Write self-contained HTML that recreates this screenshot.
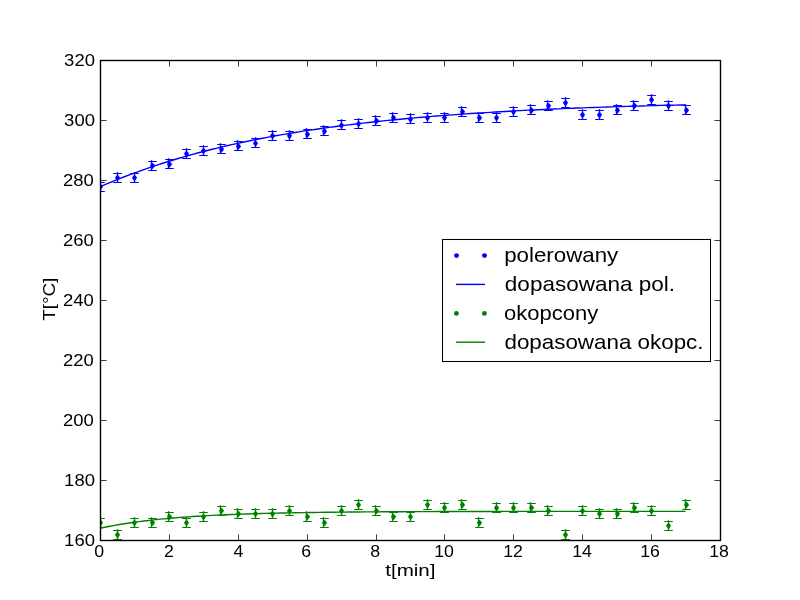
<!DOCTYPE html>
<html><head><meta charset="utf-8"><title>T vs t</title>
<style>html,body{margin:0;padding:0;background:#fff;overflow:hidden}svg{display:block;will-change:transform}.t,.t text{font-family:"Liberation Sans",sans-serif}</style>
</head><body>
<svg width="800" height="600" viewBox="0 0 800 600">
<rect width="800" height="600" fill="#fff"/>
<defs><clipPath id="ax"><rect x="100" y="60" width="620" height="480"/></clipPath></defs>
<g fill="none" clip-path="url(#ax)">
<polyline points="100.00,186.84 104.88,184.72 109.76,182.65 114.64,180.64 119.52,178.67 124.40,176.75 129.28,174.88 134.16,173.06 139.04,171.28 143.92,169.54 148.80,167.85 153.68,166.20 158.56,164.59 163.44,163.01 168.31,161.48 173.19,159.98 178.07,158.53 182.95,157.10 187.83,155.71 192.71,154.36 197.59,153.04 202.47,151.75 207.35,150.49 212.23,149.26 217.11,148.07 221.99,146.90 226.87,145.76 231.75,144.65 236.63,143.57 241.51,142.51 246.39,141.48 251.27,140.47 256.15,139.49 261.03,138.54 265.91,137.60 270.79,136.69 275.67,135.80 280.55,134.94 285.43,134.09 290.31,133.27 295.19,132.46 300.06,131.68 304.94,130.91 309.82,130.17 314.70,129.44 319.58,128.73 324.46,128.03 329.34,127.36 334.22,126.70 339.10,126.06 343.98,125.43 348.86,124.82 353.74,124.22 358.62,123.64 363.50,123.07 368.38,122.51 373.26,121.97 378.14,121.45 383.02,120.93 387.90,120.43 392.78,119.94 397.66,119.46 402.54,119.00 407.42,118.54 412.30,118.10 417.18,117.67 422.06,117.24 426.94,116.83 431.81,116.43 436.69,116.04 441.57,115.66 446.45,115.28 451.33,114.92 456.21,114.57 461.09,114.22 465.97,113.88 470.85,113.55 475.73,113.23 480.61,112.92 485.49,112.61 490.37,112.32 495.25,112.02 500.13,111.74 505.01,111.46 509.89,111.19 514.77,110.93 519.65,110.67 524.53,110.42 529.41,110.18 534.29,109.94 539.17,109.71 544.05,109.48 548.93,109.26 553.81,109.05 558.69,108.83 563.56,108.63 568.44,108.43 573.32,108.23 578.20,108.04 583.08,107.86 587.96,107.68 592.84,107.50 597.72,107.33 602.60,107.16 607.48,106.99 612.36,106.83 617.24,106.68 622.12,106.52 627.00,106.38 631.88,106.23 636.76,106.09 641.64,105.95 646.52,105.82 651.40,105.68 656.28,105.56 661.16,105.43 666.04,105.31 670.92,105.19 675.80,105.07 680.68,104.96 685.56,104.85" fill="none" stroke="#0000ff" stroke-width="1.39" stroke-linejoin="round"/>
<polyline points="100.00,528.22 104.88,527.21 109.76,526.26 114.64,525.36 119.52,524.52 124.40,523.73 129.28,522.99 134.16,522.29 139.04,521.63 143.92,521.02 148.80,520.44 153.68,519.89 158.56,519.38 163.44,518.89 168.31,518.44 173.19,518.02 178.07,517.61 182.95,517.24 187.83,516.88 192.71,516.55 197.59,516.24 202.47,515.94 207.35,515.67 212.23,515.41 217.11,515.16 221.99,514.93 226.87,514.72 231.75,514.51 236.63,514.32 241.51,514.14 246.39,513.97 251.27,513.81 256.15,513.66 261.03,513.52 265.91,513.39 270.79,513.27 275.67,513.15 280.55,513.04 285.43,512.94 290.31,512.84 295.19,512.75 300.06,512.67 304.94,512.58 309.82,512.51 314.70,512.44 319.58,512.37 324.46,512.31 329.34,512.25 334.22,512.19 339.10,512.14 343.98,512.09 348.86,512.05 353.74,512.00 358.62,511.96 363.50,511.92 368.38,511.89 373.26,511.85 378.14,511.82 383.02,511.79 387.90,511.76 392.78,511.74 397.66,511.71 402.54,511.69 407.42,511.67 412.30,511.65 417.18,511.63 422.06,511.61 426.94,511.59 431.81,511.57 436.69,511.56 441.57,511.54 446.45,511.53 451.33,511.52 456.21,511.51 461.09,511.50 465.97,511.48 470.85,511.48 475.73,511.47 480.61,511.46 485.49,511.45 490.37,511.44 495.25,511.43 500.13,511.43 505.01,511.42 509.89,511.41 514.77,511.41 519.65,511.40 524.53,511.40 529.41,511.39 534.29,511.39 539.17,511.39 544.05,511.38 548.93,511.38 553.81,511.37 558.69,511.37 563.56,511.37 568.44,511.37 573.32,511.36 578.20,511.36 583.08,511.36 587.96,511.36 592.84,511.35 597.72,511.35 602.60,511.35 607.48,511.35 612.36,511.35 617.24,511.34 622.12,511.34 627.00,511.34 631.88,511.34 636.76,511.34 641.64,511.34 646.52,511.34 651.40,511.34 656.28,511.33 661.16,511.33 666.04,511.33 670.92,511.33 675.80,511.33 680.68,511.33 685.56,511.33" fill="none" stroke="#008000" stroke-width="1.39" stroke-linejoin="round"/>
</g>
<g clip-path="url(#ax)">
<path d="M100.50 181.20V191.50" stroke="#0000ff" stroke-width="1.39"/>
<path d="M96.20 182.50H104.80M96.20 191.50H104.80" stroke="#0000ff" stroke-width="1"/>
<path d="M100.50 183.80Q102.40 185.45 103.00 186.80Q102.40 188.33 100.50 190.20Q98.60 188.33 98.00 186.80Q98.60 185.45 100.50 183.80Z" fill="#0000ff"/>
<path d="M117.50 172.20V182.50" stroke="#0000ff" stroke-width="1.39"/>
<path d="M113.20 173.50H121.80M113.20 182.50H121.80" stroke="#0000ff" stroke-width="1"/>
<path d="M117.50 174.80Q119.40 176.45 120.00 177.80Q119.40 179.33 117.50 181.20Q115.60 179.33 115.00 177.80Q115.60 176.45 117.50 174.80Z" fill="#0000ff"/>
<path d="M134.50 172.20V182.50" stroke="#0000ff" stroke-width="1.39"/>
<path d="M130.20 173.50H138.80M130.20 182.50H138.80" stroke="#0000ff" stroke-width="1"/>
<path d="M134.50 174.80Q136.40 176.45 137.00 177.80Q136.40 179.33 134.50 181.20Q132.60 179.33 132.00 177.80Q132.60 176.45 134.50 174.80Z" fill="#0000ff"/>
<path d="M151.50 160.20V170.50" stroke="#0000ff" stroke-width="1.39"/>
<path d="M148.20 161.50H156.80M148.20 170.50H156.80" stroke="#0000ff" stroke-width="1"/>
<path d="M152.50 162.80Q154.40 164.45 155.00 165.80Q154.40 167.33 152.50 169.20Q150.60 167.33 150.00 165.80Q150.60 164.45 152.50 162.80Z" fill="#0000ff"/>
<path d="M168.50 158.20V168.50" stroke="#0000ff" stroke-width="1.39"/>
<path d="M165.20 159.50H173.80M165.20 168.50H173.80" stroke="#0000ff" stroke-width="1"/>
<path d="M169.50 161.30Q171.40 162.95 172.00 164.30Q171.40 165.83 169.50 167.70Q167.60 165.83 167.00 164.30Q167.60 162.95 169.50 161.30Z" fill="#0000ff"/>
<path d="M186.50 148.20V158.50" stroke="#0000ff" stroke-width="1.39"/>
<path d="M182.20 149.50H190.80M182.20 158.50H190.80" stroke="#0000ff" stroke-width="1"/>
<path d="M186.50 150.80Q188.40 152.45 189.00 153.80Q188.40 155.33 186.50 157.20Q184.60 155.33 184.00 153.80Q184.60 152.45 186.50 150.80Z" fill="#0000ff"/>
<path d="M203.50 145.20V155.50" stroke="#0000ff" stroke-width="1.39"/>
<path d="M199.20 146.50H207.80M199.20 155.50H207.80" stroke="#0000ff" stroke-width="1"/>
<path d="M203.50 147.80Q205.40 149.45 206.00 150.80Q205.40 152.33 203.50 154.20Q201.60 152.33 201.00 150.80Q201.60 149.45 203.50 147.80Z" fill="#0000ff"/>
<path d="M220.50 143.20V153.50" stroke="#0000ff" stroke-width="1.39"/>
<path d="M217.20 144.50H225.80M217.20 153.50H225.80" stroke="#0000ff" stroke-width="1"/>
<path d="M221.50 146.30Q223.40 147.95 224.00 149.30Q223.40 150.83 221.50 152.70Q219.60 150.83 219.00 149.30Q219.60 147.95 221.50 146.30Z" fill="#0000ff"/>
<path d="M237.50 140.20V150.50" stroke="#0000ff" stroke-width="1.39"/>
<path d="M234.20 141.50H242.80M234.20 150.50H242.80" stroke="#0000ff" stroke-width="1"/>
<path d="M238.50 143.30Q240.40 144.95 241.00 146.30Q240.40 147.83 238.50 149.70Q236.60 147.83 236.00 146.30Q236.60 144.95 238.50 143.30Z" fill="#0000ff"/>
<path d="M255.50 137.20V147.50" stroke="#0000ff" stroke-width="1.39"/>
<path d="M251.20 138.50H259.80M251.20 147.50H259.80" stroke="#0000ff" stroke-width="1"/>
<path d="M255.50 140.30Q257.40 141.95 258.00 143.30Q257.40 144.83 255.50 146.70Q253.60 144.83 253.00 143.30Q253.60 141.95 255.50 140.30Z" fill="#0000ff"/>
<path d="M272.50 130.20V140.50" stroke="#0000ff" stroke-width="1.39"/>
<path d="M268.20 131.50H276.80M268.20 140.50H276.80" stroke="#0000ff" stroke-width="1"/>
<path d="M272.50 132.80Q274.40 134.45 275.00 135.80Q274.40 137.33 272.50 139.20Q270.60 137.33 270.00 135.80Q270.60 134.45 272.50 132.80Z" fill="#0000ff"/>
<path d="M289.50 130.20V140.50" stroke="#0000ff" stroke-width="1.39"/>
<path d="M285.20 131.50H293.80M285.20 140.50H293.80" stroke="#0000ff" stroke-width="1"/>
<path d="M289.50 132.80Q291.40 134.45 292.00 135.80Q291.40 137.33 289.50 139.20Q287.60 137.33 287.00 135.80Q287.60 134.45 289.50 132.80Z" fill="#0000ff"/>
<path d="M306.50 128.20V138.50" stroke="#0000ff" stroke-width="1.39"/>
<path d="M303.20 129.50H311.80M303.20 138.50H311.80" stroke="#0000ff" stroke-width="1"/>
<path d="M307.50 131.30Q309.40 132.95 310.00 134.30Q309.40 135.83 307.50 137.70Q305.60 135.83 305.00 134.30Q305.60 132.95 307.50 131.30Z" fill="#0000ff"/>
<path d="M323.50 125.20V135.50" stroke="#0000ff" stroke-width="1.39"/>
<path d="M320.20 126.50H328.80M320.20 135.50H328.80" stroke="#0000ff" stroke-width="1"/>
<path d="M324.50 128.30Q326.40 129.95 327.00 131.30Q326.40 132.83 324.50 134.70Q322.60 132.83 322.00 131.30Q322.60 129.95 324.50 128.30Z" fill="#0000ff"/>
<path d="M341.50 119.20V129.50" stroke="#0000ff" stroke-width="1.39"/>
<path d="M337.20 120.50H345.80M337.20 129.50H345.80" stroke="#0000ff" stroke-width="1"/>
<path d="M341.50 122.30Q343.40 123.95 344.00 125.30Q343.40 126.83 341.50 128.70Q339.60 126.83 339.00 125.30Q339.60 123.95 341.50 122.30Z" fill="#0000ff"/>
<path d="M358.50 118.20V128.50" stroke="#0000ff" stroke-width="1.39"/>
<path d="M354.20 119.50H362.80M354.20 128.50H362.80" stroke="#0000ff" stroke-width="1"/>
<path d="M358.50 120.80Q360.40 122.45 361.00 123.80Q360.40 125.33 358.50 127.20Q356.60 125.33 356.00 123.80Q356.60 122.45 358.50 120.80Z" fill="#0000ff"/>
<path d="M375.50 115.20V125.50" stroke="#0000ff" stroke-width="1.39"/>
<path d="M372.20 116.50H380.80M372.20 125.50H380.80" stroke="#0000ff" stroke-width="1"/>
<path d="M376.50 117.80Q378.40 119.45 379.00 120.80Q378.40 122.33 376.50 124.20Q374.60 122.33 374.00 120.80Q374.60 119.45 376.50 117.80Z" fill="#0000ff"/>
<path d="M392.50 112.20V122.50" stroke="#0000ff" stroke-width="1.39"/>
<path d="M389.20 113.50H397.80M389.20 122.50H397.80" stroke="#0000ff" stroke-width="1"/>
<path d="M393.50 114.80Q395.40 116.45 396.00 117.80Q395.40 119.33 393.50 121.20Q391.60 119.33 391.00 117.80Q391.60 116.45 393.50 114.80Z" fill="#0000ff"/>
<path d="M410.50 113.20V123.50" stroke="#0000ff" stroke-width="1.39"/>
<path d="M406.20 114.50H414.80M406.20 123.50H414.80" stroke="#0000ff" stroke-width="1"/>
<path d="M410.50 116.30Q412.40 117.95 413.00 119.30Q412.40 120.83 410.50 122.70Q408.60 120.83 408.00 119.30Q408.60 117.95 410.50 116.30Z" fill="#0000ff"/>
<path d="M427.50 112.20V122.50" stroke="#0000ff" stroke-width="1.39"/>
<path d="M423.20 113.50H431.80M423.20 122.50H431.80" stroke="#0000ff" stroke-width="1"/>
<path d="M427.50 114.80Q429.40 116.45 430.00 117.80Q429.40 119.33 427.50 121.20Q425.60 119.33 425.00 117.80Q425.60 116.45 427.50 114.80Z" fill="#0000ff"/>
<path d="M444.50 112.20V122.50" stroke="#0000ff" stroke-width="1.39"/>
<path d="M440.20 113.50H448.80M440.20 122.50H448.80" stroke="#0000ff" stroke-width="1"/>
<path d="M444.50 114.80Q446.40 116.45 447.00 117.80Q446.40 119.33 444.50 121.20Q442.60 119.33 442.00 117.80Q442.60 116.45 444.50 114.80Z" fill="#0000ff"/>
<path d="M461.50 106.20V116.50" stroke="#0000ff" stroke-width="1.39"/>
<path d="M458.20 107.50H466.80M458.20 116.50H466.80" stroke="#0000ff" stroke-width="1"/>
<path d="M462.50 108.80Q464.40 110.45 465.00 111.80Q464.40 113.33 462.50 115.20Q460.60 113.33 460.00 111.80Q460.60 110.45 462.50 108.80Z" fill="#0000ff"/>
<path d="M478.50 112.20V122.50" stroke="#0000ff" stroke-width="1.39"/>
<path d="M475.20 113.50H483.80M475.20 122.50H483.80" stroke="#0000ff" stroke-width="1"/>
<path d="M479.50 114.80Q481.40 116.45 482.00 117.80Q481.40 119.33 479.50 121.20Q477.60 119.33 477.00 117.80Q477.60 116.45 479.50 114.80Z" fill="#0000ff"/>
<path d="M496.50 112.20V122.50" stroke="#0000ff" stroke-width="1.39"/>
<path d="M492.20 113.50H500.80M492.20 122.50H500.80" stroke="#0000ff" stroke-width="1"/>
<path d="M496.50 114.80Q498.40 116.45 499.00 117.80Q498.40 119.33 496.50 121.20Q494.60 119.33 494.00 117.80Q494.60 116.45 496.50 114.80Z" fill="#0000ff"/>
<path d="M513.50 106.20V116.50" stroke="#0000ff" stroke-width="1.39"/>
<path d="M509.20 107.50H517.80M509.20 116.50H517.80" stroke="#0000ff" stroke-width="1"/>
<path d="M513.50 108.80Q515.40 110.45 516.00 111.80Q515.40 113.33 513.50 115.20Q511.60 113.33 511.00 111.80Q511.60 110.45 513.50 108.80Z" fill="#0000ff"/>
<path d="M530.50 104.20V114.50" stroke="#0000ff" stroke-width="1.39"/>
<path d="M527.20 105.50H535.80M527.20 114.50H535.80" stroke="#0000ff" stroke-width="1"/>
<path d="M531.50 107.30Q533.40 108.95 534.00 110.30Q533.40 111.83 531.50 113.70Q529.60 111.83 529.00 110.30Q529.60 108.95 531.50 107.30Z" fill="#0000ff"/>
<path d="M547.50 100.20V110.50" stroke="#0000ff" stroke-width="1.39"/>
<path d="M544.20 101.50H552.80M544.20 110.50H552.80" stroke="#0000ff" stroke-width="1"/>
<path d="M548.50 102.80Q550.40 104.45 551.00 105.80Q550.40 107.33 548.50 109.20Q546.60 107.33 546.00 105.80Q546.60 104.45 548.50 102.80Z" fill="#0000ff"/>
<path d="M565.50 97.20V107.50" stroke="#0000ff" stroke-width="1.39"/>
<path d="M561.20 98.50H569.80M561.20 107.50H569.80" stroke="#0000ff" stroke-width="1"/>
<path d="M565.50 99.80Q567.40 101.45 568.00 102.80Q567.40 104.33 565.50 106.20Q563.60 104.33 563.00 102.80Q563.60 101.45 565.50 99.80Z" fill="#0000ff"/>
<path d="M582.50 109.20V119.50" stroke="#0000ff" stroke-width="1.39"/>
<path d="M578.20 110.50H586.80M578.20 119.50H586.80" stroke="#0000ff" stroke-width="1"/>
<path d="M582.50 111.80Q584.40 113.45 585.00 114.80Q584.40 116.33 582.50 118.20Q580.60 116.33 580.00 114.80Q580.60 113.45 582.50 111.80Z" fill="#0000ff"/>
<path d="M599.50 109.20V119.50" stroke="#0000ff" stroke-width="1.39"/>
<path d="M595.20 110.50H603.80M595.20 119.50H603.80" stroke="#0000ff" stroke-width="1"/>
<path d="M599.50 111.80Q601.40 113.45 602.00 114.80Q601.40 116.33 599.50 118.20Q597.60 116.33 597.00 114.80Q597.60 113.45 599.50 111.80Z" fill="#0000ff"/>
<path d="M616.50 104.20V114.50" stroke="#0000ff" stroke-width="1.39"/>
<path d="M613.20 105.50H621.80M613.20 114.50H621.80" stroke="#0000ff" stroke-width="1"/>
<path d="M617.50 107.30Q619.40 108.95 620.00 110.30Q619.40 111.83 617.50 113.70Q615.60 111.83 615.00 110.30Q615.60 108.95 617.50 107.30Z" fill="#0000ff"/>
<path d="M633.50 100.20V110.50" stroke="#0000ff" stroke-width="1.39"/>
<path d="M630.20 101.50H638.80M630.20 110.50H638.80" stroke="#0000ff" stroke-width="1"/>
<path d="M634.50 102.80Q636.40 104.45 637.00 105.80Q636.40 107.33 634.50 109.20Q632.60 107.33 632.00 105.80Q632.60 104.45 634.50 102.80Z" fill="#0000ff"/>
<path d="M651.50 94.20V104.50" stroke="#0000ff" stroke-width="1.39"/>
<path d="M647.20 95.50H655.80M647.20 104.50H655.80" stroke="#0000ff" stroke-width="1"/>
<path d="M651.50 96.80Q653.40 98.45 654.00 99.80Q653.40 101.33 651.50 103.20Q649.60 101.33 649.00 99.80Q649.60 98.45 651.50 96.80Z" fill="#0000ff"/>
<path d="M668.50 100.20V110.50" stroke="#0000ff" stroke-width="1.39"/>
<path d="M664.20 101.50H672.80M664.20 110.50H672.80" stroke="#0000ff" stroke-width="1"/>
<path d="M668.50 102.80Q670.40 104.45 671.00 105.80Q670.40 107.33 668.50 109.20Q666.60 107.33 666.00 105.80Q666.60 104.45 668.50 102.80Z" fill="#0000ff"/>
<path d="M685.50 104.20V114.50" stroke="#0000ff" stroke-width="1.39"/>
<path d="M682.20 105.50H690.80M682.20 114.50H690.80" stroke="#0000ff" stroke-width="1"/>
<path d="M686.50 107.30Q688.40 108.95 689.00 110.30Q688.40 111.83 686.50 113.70Q684.60 111.83 684.00 110.30Q684.60 108.95 686.50 107.30Z" fill="#0000ff"/>
<path d="M100.50 517.20V527.50" stroke="#008000" stroke-width="1.39"/>
<path d="M96.20 518.50H104.80M96.20 527.50H104.80" stroke="#008000" stroke-width="1"/>
<path d="M100.50 519.80Q102.40 521.45 103.00 522.80Q102.40 524.33 100.50 526.20Q98.60 524.33 98.00 522.80Q98.60 521.45 100.50 519.80Z" fill="#008000"/>
<path d="M117.50 529.20V539.50" stroke="#008000" stroke-width="1.39"/>
<path d="M113.20 530.50H121.80M113.20 539.50H121.80" stroke="#008000" stroke-width="1"/>
<path d="M117.50 531.80Q119.40 533.45 120.00 534.80Q119.40 536.33 117.50 538.20Q115.60 536.33 115.00 534.80Q115.60 533.45 117.50 531.80Z" fill="#008000"/>
<path d="M134.50 517.20V527.50" stroke="#008000" stroke-width="1.39"/>
<path d="M130.20 518.50H138.80M130.20 527.50H138.80" stroke="#008000" stroke-width="1"/>
<path d="M134.50 519.80Q136.40 521.45 137.00 522.80Q136.40 524.33 134.50 526.20Q132.60 524.33 132.00 522.80Q132.60 521.45 134.50 519.80Z" fill="#008000"/>
<path d="M151.50 517.20V527.50" stroke="#008000" stroke-width="1.39"/>
<path d="M148.20 518.50H156.80M148.20 527.50H156.80" stroke="#008000" stroke-width="1"/>
<path d="M152.50 519.80Q154.40 521.45 155.00 522.80Q154.40 524.33 152.50 526.20Q150.60 524.33 150.00 522.80Q150.60 521.45 152.50 519.80Z" fill="#008000"/>
<path d="M168.50 511.20V521.50" stroke="#008000" stroke-width="1.39"/>
<path d="M165.20 512.50H173.80M165.20 521.50H173.80" stroke="#008000" stroke-width="1"/>
<path d="M169.50 513.80Q171.40 515.45 172.00 516.80Q171.40 518.33 169.50 520.20Q167.60 518.33 167.00 516.80Q167.60 515.45 169.50 513.80Z" fill="#008000"/>
<path d="M186.50 517.20V527.50" stroke="#008000" stroke-width="1.39"/>
<path d="M182.20 518.50H190.80M182.20 527.50H190.80" stroke="#008000" stroke-width="1"/>
<path d="M186.50 519.80Q188.40 521.45 189.00 522.80Q188.40 524.33 186.50 526.20Q184.60 524.33 184.00 522.80Q184.60 521.45 186.50 519.80Z" fill="#008000"/>
<path d="M203.50 511.20V521.50" stroke="#008000" stroke-width="1.39"/>
<path d="M199.20 512.50H207.80M199.20 521.50H207.80" stroke="#008000" stroke-width="1"/>
<path d="M203.50 513.80Q205.40 515.45 206.00 516.80Q205.40 518.33 203.50 520.20Q201.60 518.33 201.00 516.80Q201.60 515.45 203.50 513.80Z" fill="#008000"/>
<path d="M220.50 505.20V515.50" stroke="#008000" stroke-width="1.39"/>
<path d="M217.20 506.50H225.80M217.20 515.50H225.80" stroke="#008000" stroke-width="1"/>
<path d="M221.50 507.80Q223.40 509.45 224.00 510.80Q223.40 512.33 221.50 514.20Q219.60 512.33 219.00 510.80Q219.60 509.45 221.50 507.80Z" fill="#008000"/>
<path d="M237.50 508.20V518.50" stroke="#008000" stroke-width="1.39"/>
<path d="M234.20 509.50H242.80M234.20 518.50H242.80" stroke="#008000" stroke-width="1"/>
<path d="M238.50 510.80Q240.40 512.45 241.00 513.80Q240.40 515.33 238.50 517.20Q236.60 515.33 236.00 513.80Q236.60 512.45 238.50 510.80Z" fill="#008000"/>
<path d="M255.50 508.20V518.50" stroke="#008000" stroke-width="1.39"/>
<path d="M251.20 509.50H259.80M251.20 518.50H259.80" stroke="#008000" stroke-width="1"/>
<path d="M255.50 510.80Q257.40 512.45 258.00 513.80Q257.40 515.33 255.50 517.20Q253.60 515.33 253.00 513.80Q253.60 512.45 255.50 510.80Z" fill="#008000"/>
<path d="M272.50 508.20V518.50" stroke="#008000" stroke-width="1.39"/>
<path d="M268.20 509.50H276.80M268.20 518.50H276.80" stroke="#008000" stroke-width="1"/>
<path d="M272.50 510.80Q274.40 512.45 275.00 513.80Q274.40 515.33 272.50 517.20Q270.60 515.33 270.00 513.80Q270.60 512.45 272.50 510.80Z" fill="#008000"/>
<path d="M289.50 505.20V515.50" stroke="#008000" stroke-width="1.39"/>
<path d="M285.20 506.50H293.80M285.20 515.50H293.80" stroke="#008000" stroke-width="1"/>
<path d="M289.50 507.80Q291.40 509.45 292.00 510.80Q291.40 512.33 289.50 514.20Q287.60 512.33 287.00 510.80Q287.60 509.45 289.50 507.80Z" fill="#008000"/>
<path d="M306.50 511.20V521.50" stroke="#008000" stroke-width="1.39"/>
<path d="M303.20 512.50H311.80M303.20 521.50H311.80" stroke="#008000" stroke-width="1"/>
<path d="M307.50 513.80Q309.40 515.45 310.00 516.80Q309.40 518.33 307.50 520.20Q305.60 518.33 305.00 516.80Q305.60 515.45 307.50 513.80Z" fill="#008000"/>
<path d="M323.50 517.20V527.50" stroke="#008000" stroke-width="1.39"/>
<path d="M320.20 518.50H328.80M320.20 527.50H328.80" stroke="#008000" stroke-width="1"/>
<path d="M324.50 519.80Q326.40 521.45 327.00 522.80Q326.40 524.33 324.50 526.20Q322.60 524.33 322.00 522.80Q322.60 521.45 324.50 519.80Z" fill="#008000"/>
<path d="M341.50 505.20V515.50" stroke="#008000" stroke-width="1.39"/>
<path d="M337.20 506.50H345.80M337.20 515.50H345.80" stroke="#008000" stroke-width="1"/>
<path d="M341.50 507.80Q343.40 509.45 344.00 510.80Q343.40 512.33 341.50 514.20Q339.60 512.33 339.00 510.80Q339.60 509.45 341.50 507.80Z" fill="#008000"/>
<path d="M358.50 499.20V509.50" stroke="#008000" stroke-width="1.39"/>
<path d="M354.20 500.50H362.80M354.20 509.50H362.80" stroke="#008000" stroke-width="1"/>
<path d="M358.50 501.80Q360.40 503.45 361.00 504.80Q360.40 506.33 358.50 508.20Q356.60 506.33 356.00 504.80Q356.60 503.45 358.50 501.80Z" fill="#008000"/>
<path d="M375.50 505.20V515.50" stroke="#008000" stroke-width="1.39"/>
<path d="M372.20 506.50H380.80M372.20 515.50H380.80" stroke="#008000" stroke-width="1"/>
<path d="M376.50 507.80Q378.40 509.45 379.00 510.80Q378.40 512.33 376.50 514.20Q374.60 512.33 374.00 510.80Q374.60 509.45 376.50 507.80Z" fill="#008000"/>
<path d="M392.50 511.20V521.50" stroke="#008000" stroke-width="1.39"/>
<path d="M389.20 512.50H397.80M389.20 521.50H397.80" stroke="#008000" stroke-width="1"/>
<path d="M393.50 513.80Q395.40 515.45 396.00 516.80Q395.40 518.33 393.50 520.20Q391.60 518.33 391.00 516.80Q391.60 515.45 393.50 513.80Z" fill="#008000"/>
<path d="M410.50 511.20V521.50" stroke="#008000" stroke-width="1.39"/>
<path d="M406.20 512.50H414.80M406.20 521.50H414.80" stroke="#008000" stroke-width="1"/>
<path d="M410.50 513.80Q412.40 515.45 413.00 516.80Q412.40 518.33 410.50 520.20Q408.60 518.33 408.00 516.80Q408.60 515.45 410.50 513.80Z" fill="#008000"/>
<path d="M427.50 499.20V509.50" stroke="#008000" stroke-width="1.39"/>
<path d="M423.20 500.50H431.80M423.20 509.50H431.80" stroke="#008000" stroke-width="1"/>
<path d="M427.50 501.80Q429.40 503.45 430.00 504.80Q429.40 506.33 427.50 508.20Q425.60 506.33 425.00 504.80Q425.60 503.45 427.50 501.80Z" fill="#008000"/>
<path d="M444.50 502.20V512.50" stroke="#008000" stroke-width="1.39"/>
<path d="M440.20 503.50H448.80M440.20 512.50H448.80" stroke="#008000" stroke-width="1"/>
<path d="M444.50 504.80Q446.40 506.45 447.00 507.80Q446.40 509.33 444.50 511.20Q442.60 509.33 442.00 507.80Q442.60 506.45 444.50 504.80Z" fill="#008000"/>
<path d="M461.50 499.20V509.50" stroke="#008000" stroke-width="1.39"/>
<path d="M458.20 500.50H466.80M458.20 509.50H466.80" stroke="#008000" stroke-width="1"/>
<path d="M462.50 501.80Q464.40 503.45 465.00 504.80Q464.40 506.33 462.50 508.20Q460.60 506.33 460.00 504.80Q460.60 503.45 462.50 501.80Z" fill="#008000"/>
<path d="M478.50 517.20V527.50" stroke="#008000" stroke-width="1.39"/>
<path d="M475.20 518.50H483.80M475.20 527.50H483.80" stroke="#008000" stroke-width="1"/>
<path d="M479.50 519.80Q481.40 521.45 482.00 522.80Q481.40 524.33 479.50 526.20Q477.60 524.33 477.00 522.80Q477.60 521.45 479.50 519.80Z" fill="#008000"/>
<path d="M496.50 502.20V512.50" stroke="#008000" stroke-width="1.39"/>
<path d="M492.20 503.50H500.80M492.20 512.50H500.80" stroke="#008000" stroke-width="1"/>
<path d="M496.50 504.80Q498.40 506.45 499.00 507.80Q498.40 509.33 496.50 511.20Q494.60 509.33 494.00 507.80Q494.60 506.45 496.50 504.80Z" fill="#008000"/>
<path d="M513.50 502.20V512.50" stroke="#008000" stroke-width="1.39"/>
<path d="M509.20 503.50H517.80M509.20 512.50H517.80" stroke="#008000" stroke-width="1"/>
<path d="M513.50 504.80Q515.40 506.45 516.00 507.80Q515.40 509.33 513.50 511.20Q511.60 509.33 511.00 507.80Q511.60 506.45 513.50 504.80Z" fill="#008000"/>
<path d="M530.50 502.20V512.50" stroke="#008000" stroke-width="1.39"/>
<path d="M527.20 503.50H535.80M527.20 512.50H535.80" stroke="#008000" stroke-width="1"/>
<path d="M531.50 504.80Q533.40 506.45 534.00 507.80Q533.40 509.33 531.50 511.20Q529.60 509.33 529.00 507.80Q529.60 506.45 531.50 504.80Z" fill="#008000"/>
<path d="M547.50 505.20V515.50" stroke="#008000" stroke-width="1.39"/>
<path d="M544.20 506.50H552.80M544.20 515.50H552.80" stroke="#008000" stroke-width="1"/>
<path d="M548.50 507.80Q550.40 509.45 551.00 510.80Q550.40 512.33 548.50 514.20Q546.60 512.33 546.00 510.80Q546.60 509.45 548.50 507.80Z" fill="#008000"/>
<path d="M565.50 529.20V539.50" stroke="#008000" stroke-width="1.39"/>
<path d="M561.20 530.50H569.80M561.20 539.50H569.80" stroke="#008000" stroke-width="1"/>
<path d="M565.50 531.80Q567.40 533.45 568.00 534.80Q567.40 536.33 565.50 538.20Q563.60 536.33 563.00 534.80Q563.60 533.45 565.50 531.80Z" fill="#008000"/>
<path d="M582.50 505.20V515.50" stroke="#008000" stroke-width="1.39"/>
<path d="M578.20 506.50H586.80M578.20 515.50H586.80" stroke="#008000" stroke-width="1"/>
<path d="M582.50 507.80Q584.40 509.45 585.00 510.80Q584.40 512.33 582.50 514.20Q580.60 512.33 580.00 510.80Q580.60 509.45 582.50 507.80Z" fill="#008000"/>
<path d="M599.50 508.20V518.50" stroke="#008000" stroke-width="1.39"/>
<path d="M595.20 509.50H603.80M595.20 518.50H603.80" stroke="#008000" stroke-width="1"/>
<path d="M599.50 510.80Q601.40 512.45 602.00 513.80Q601.40 515.33 599.50 517.20Q597.60 515.33 597.00 513.80Q597.60 512.45 599.50 510.80Z" fill="#008000"/>
<path d="M616.50 508.20V518.50" stroke="#008000" stroke-width="1.39"/>
<path d="M613.20 509.50H621.80M613.20 518.50H621.80" stroke="#008000" stroke-width="1"/>
<path d="M617.50 510.80Q619.40 512.45 620.00 513.80Q619.40 515.33 617.50 517.20Q615.60 515.33 615.00 513.80Q615.60 512.45 617.50 510.80Z" fill="#008000"/>
<path d="M633.50 502.20V512.50" stroke="#008000" stroke-width="1.39"/>
<path d="M630.20 503.50H638.80M630.20 512.50H638.80" stroke="#008000" stroke-width="1"/>
<path d="M634.50 504.80Q636.40 506.45 637.00 507.80Q636.40 509.33 634.50 511.20Q632.60 509.33 632.00 507.80Q632.60 506.45 634.50 504.80Z" fill="#008000"/>
<path d="M651.50 505.20V515.50" stroke="#008000" stroke-width="1.39"/>
<path d="M647.20 506.50H655.80M647.20 515.50H655.80" stroke="#008000" stroke-width="1"/>
<path d="M651.50 507.80Q653.40 509.45 654.00 510.80Q653.40 512.33 651.50 514.20Q649.60 512.33 649.00 510.80Q649.60 509.45 651.50 507.80Z" fill="#008000"/>
<path d="M668.50 520.20V530.50" stroke="#008000" stroke-width="1.39"/>
<path d="M664.20 521.50H672.80M664.20 530.50H672.80" stroke="#008000" stroke-width="1"/>
<path d="M668.50 522.80Q670.40 524.45 671.00 525.80Q670.40 527.33 668.50 529.20Q666.60 527.33 666.00 525.80Q666.60 524.45 668.50 522.80Z" fill="#008000"/>
<path d="M685.50 499.20V509.50" stroke="#008000" stroke-width="1.39"/>
<path d="M682.20 500.50H690.80M682.20 509.50H690.80" stroke="#008000" stroke-width="1"/>
<path d="M686.50 501.80Q688.40 503.45 689.00 504.80Q688.40 506.33 686.50 508.20Q684.60 506.33 684.00 504.80Q684.60 503.45 686.50 501.80Z" fill="#008000"/>
</g>
<g class="t" font-size="17.2" fill="#000">
<text x="94.28" y="556.75" textLength="9.85" lengthAdjust="spacingAndGlyphs">0</text>
<path d="M169.5 540.5V534.4M169.5 60.5V66.6" stroke="#000" stroke-width="0.75"/>
<text x="164.08" y="556.75" textLength="9.85" lengthAdjust="spacingAndGlyphs">2</text>
<path d="M238.5 540.5V534.4M238.5 60.5V66.6" stroke="#000" stroke-width="0.75"/>
<text x="233.53" y="556.75" textLength="9.85" lengthAdjust="spacingAndGlyphs">4</text>
<path d="M307.5 540.5V534.4M307.5 60.5V66.6" stroke="#000" stroke-width="0.75"/>
<text x="301.32" y="556.75" textLength="9.85" lengthAdjust="spacingAndGlyphs">6</text>
<path d="M376.5 540.5V534.4M376.5 60.5V66.6" stroke="#000" stroke-width="0.75"/>
<text x="370.33" y="556.75" textLength="9.85" lengthAdjust="spacingAndGlyphs">8</text>
<path d="M444.5 540.5V534.4M444.5 60.5V66.6" stroke="#000" stroke-width="0.75"/>
<text x="434.26" y="556.75" textLength="19.69" lengthAdjust="spacingAndGlyphs">10</text>
<path d="M513.5 540.5V534.4M513.5 60.5V66.6" stroke="#000" stroke-width="0.75"/>
<text x="503.23" y="556.75" textLength="19.69" lengthAdjust="spacingAndGlyphs">12</text>
<path d="M582.5 540.5V534.4M582.5 60.5V66.6" stroke="#000" stroke-width="0.75"/>
<text x="572.24" y="556.75" textLength="19.69" lengthAdjust="spacingAndGlyphs">14</text>
<path d="M651.5 540.5V534.4M651.5 60.5V66.6" stroke="#000" stroke-width="0.75"/>
<text x="640.22" y="556.75" textLength="19.69" lengthAdjust="spacingAndGlyphs">16</text>
<text x="709.21" y="556.75" textLength="19.69" lengthAdjust="spacingAndGlyphs">18</text>
<text x="64.13" y="545.93" textLength="30.85" lengthAdjust="spacingAndGlyphs">160</text>
<path d="M100.5 480.5H106.6M720.5 480.5H714.4" stroke="#000" stroke-width="0.75"/>
<text x="64.13" y="485.93" textLength="30.85" lengthAdjust="spacingAndGlyphs">180</text>
<path d="M100.5 420.5H106.6M720.5 420.5H714.4" stroke="#000" stroke-width="0.75"/>
<text x="62.98" y="425.93" textLength="30.85" lengthAdjust="spacingAndGlyphs">200</text>
<path d="M100.5 360.5H106.6M720.5 360.5H714.4" stroke="#000" stroke-width="0.75"/>
<text x="62.98" y="365.93" textLength="30.85" lengthAdjust="spacingAndGlyphs">220</text>
<path d="M100.5 300.5H106.6M720.5 300.5H714.4" stroke="#000" stroke-width="0.75"/>
<text x="62.98" y="305.93" textLength="30.85" lengthAdjust="spacingAndGlyphs">240</text>
<path d="M100.5 240.5H106.6M720.5 240.5H714.4" stroke="#000" stroke-width="0.75"/>
<text x="62.98" y="245.93" textLength="30.85" lengthAdjust="spacingAndGlyphs">260</text>
<path d="M100.5 180.5H106.6M720.5 180.5H714.4" stroke="#000" stroke-width="0.75"/>
<text x="62.98" y="185.93" textLength="30.85" lengthAdjust="spacingAndGlyphs">280</text>
<path d="M100.5 120.5H106.6M720.5 120.5H714.4" stroke="#000" stroke-width="0.75"/>
<text x="64.13" y="125.93" textLength="30.85" lengthAdjust="spacingAndGlyphs">300</text>
<text x="64.13" y="65.93" textLength="30.85" lengthAdjust="spacingAndGlyphs">320</text>
</g>
<rect x="100.5" y="60.5" width="620" height="480" fill="none" stroke="#000" stroke-width="1.39"/>
<g class="t" fill="#000">
<text x="-320.81" y="55.00" font-size="17.00" textLength="43.15" lengthAdjust="spacingAndGlyphs" transform="rotate(-90)">T[°C]</text>
<text x="385.19" y="575.70" font-size="17.00" textLength="50.37" lengthAdjust="spacingAndGlyphs">t[min]</text>
</g>
<g>
<rect x="442.5" y="239.5" width="268" height="122" fill="#fff" stroke="#000" stroke-width="1.05"/>
<circle cx="456.5" cy="255.6" r="2.43" fill="#0000ff"/><circle cx="484.5" cy="255.6" r="2.43" fill="#0000ff"/>
<path d="M456.0 284.4H485.0" stroke="#0000ff" stroke-width="1.39"/>
<circle cx="456.4" cy="313.4" r="2.43" fill="#008000"/><circle cx="484.4" cy="313.4" r="2.43" fill="#008000"/>
<path d="M456.0 342.2H485.0" stroke="#008000" stroke-width="1.39"/>
<g class="t" fill="#000">
<text x="504.17" y="261.90" font-size="20.40" textLength="114.13" lengthAdjust="spacingAndGlyphs">polerowany</text>
<text x="504.85" y="291.00" font-size="20.40" textLength="170.18" lengthAdjust="spacingAndGlyphs">dopasowana pol.</text>
<text x="504.08" y="319.70" font-size="20.40" textLength="94.26" lengthAdjust="spacingAndGlyphs">okopcony</text>
<text x="504.46" y="348.75" font-size="20.40" textLength="199.07" lengthAdjust="spacingAndGlyphs">dopasowana okopc.</text>
</g>
</g>
</svg>
</body></html>
